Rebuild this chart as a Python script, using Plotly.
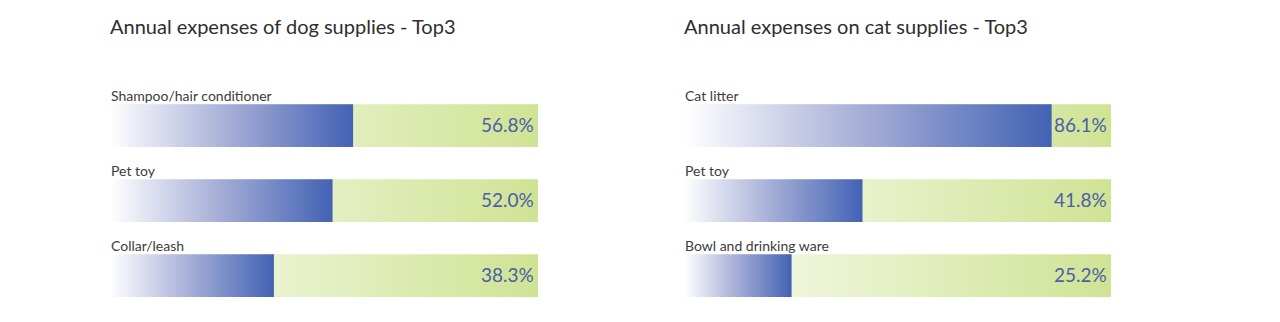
import plotly.graph_objects as go

# ---- data ----
dog_items = ["Shampoo/hair conditioner", "Pet toy", "Collar/leash"]
dog_values = [56.8, 52.0, 38.3]
cat_items = ["Cat litter", "Pet toy", "Bowl and drinking ware"]
cat_values = [86.1, 41.8, 25.2]
titles = ["Annual expenses of dog supplies - Top3", "Annual expenses on cat supplies - Top3"]
full_scale = 100.0

# ---- style ----
W, H = 1280, 322
FONT = "Lato"
BLUE_SCALE = [[0, "#ffffff"], [0.5, "#a3acd6"], [1, "#4262b4"]]
GREEN_SCALE = [[0, "#fafcf3"], [1, "#cfe394"]]
HALF = 0.285
PCT_COLOR = "#4a5ea8"
LABEL_COLOR = "#3c3c3c"

fig = go.Figure()

panels = [(dog_items, dog_values, "x", "y"), (cat_items, cat_values, "x2", "y2")]
for items, values, xa, ya in panels:
    # green background bars (full scale), one trace so gradient spans whole width
    gx, gy = [], []
    for i, _ in enumerate(items):
        gx += [0, full_scale, full_scale, 0, 0, None]
        gy += [i - HALF, i - HALF, i + HALF, i + HALF, i - HALF, None]
    fig.add_trace(go.Scatter(
        x=gx, y=gy, mode="lines", fill="toself", line=dict(width=0),
        fillgradient=dict(type="horizontal", colorscale=GREEN_SCALE),
        xaxis=xa, yaxis=ya, hoverinfo="skip", showlegend=False))
    for i, (name, v) in enumerate(zip(items, values)):
        fig.add_trace(go.Scatter(
            x=[0, v, v, 0, 0], y=[i - HALF, i - HALF, i + HALF, i + HALF, i - HALF],
            mode="lines", fill="toself", line=dict(width=0),
            fillgradient=dict(type="horizontal", colorscale=BLUE_SCALE),
            xaxis=xa, yaxis=ya, hoverinfo="text", text=f"{name}: {v:.1f}%",
            showlegend=False))
        fig.add_annotation(x=0, y=i - HALF, xref=xa, yref=ya, text=name,
                           xanchor="left", yanchor="bottom", showarrow=False,
                           yshift=-2, xshift=-1,
                           font=dict(family=FONT, size=14, color=LABEL_COLOR))
        fig.add_annotation(x=full_scale, y=i, xref=xa, yref=ya, text=f"{v:.1f}%",
                           xanchor="right", yanchor="middle", showarrow=False,
                           xshift=-2, yshift=1,
                           font=dict(family=FONT, size=19, color=PCT_COLOR))

for title, x0 in zip(titles, [110 / W, 684 / W]):
    fig.add_annotation(x=x0, y=1 - 26 / H, xref="paper", yref="paper", text=title,
                       xanchor="left", yanchor="middle", showarrow=False, xshift=-2,
                       font=dict(family=FONT, size=20, color="#2e2e2e"))

# y mapping: index 0 centre at 125.5px, spacing 75px
spacing = 75.0
y_top = -125.5 / spacing
y_bot = y_top + H / spacing
yax = dict(range=[y_bot, y_top], domain=[0, 1], visible=False, fixedrange=True)
xcommon = dict(range=[0, full_scale], visible=False, fixedrange=True)

fig.update_layout(
    width=W, height=H, margin=dict(l=0, r=0, t=0, b=0),
    paper_bgcolor="white", plot_bgcolor="white",
    xaxis=dict(domain=[110 / W, 538 / W], anchor="y", **xcommon),
    xaxis2=dict(domain=[684 / W, 1111 / W], anchor="y2", **xcommon),
    yaxis=dict(anchor="x", **yax),
    yaxis2=dict(anchor="x2", **yax),
)

fig.write_html("out.html")
